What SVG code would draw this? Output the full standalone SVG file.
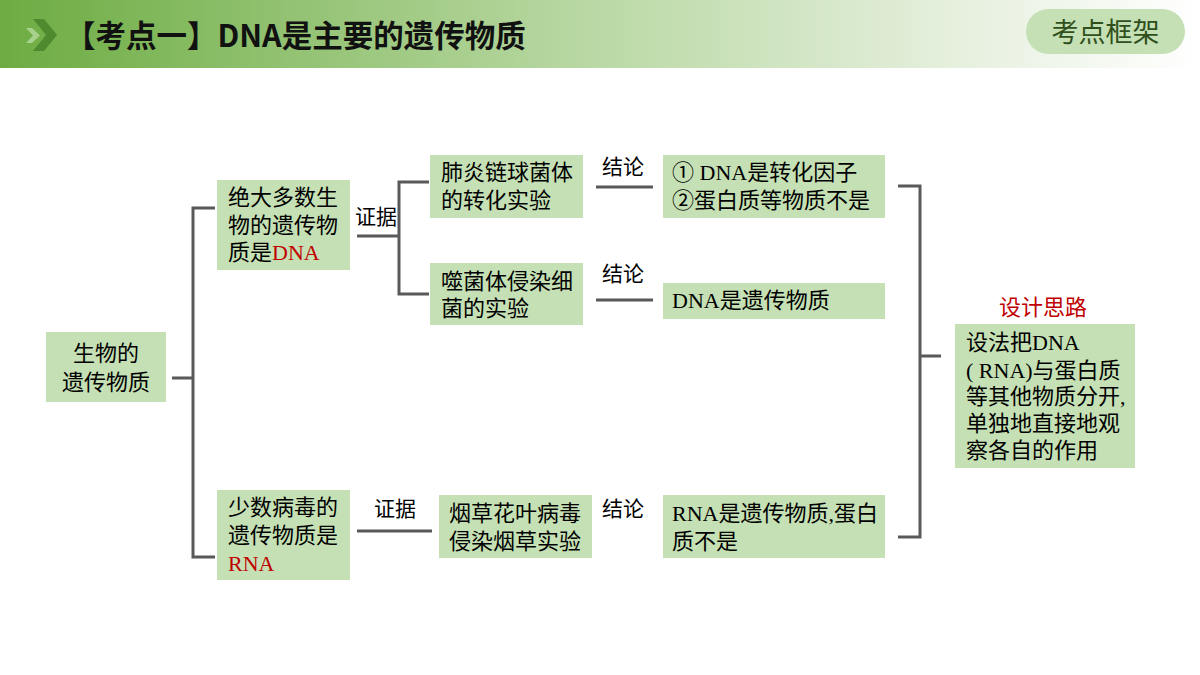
<svg xmlns="http://www.w3.org/2000/svg" width="1200" height="675" viewBox="0 0 1200 675">
<defs>
<linearGradient id="hdr" x1="0" y1="0" x2="1" y2="0">
<stop offset="0" stop-color="#6dac42"/>
<stop offset="0.45" stop-color="#b3d59c"/>
<stop offset="0.8" stop-color="#e6f0de"/>
<stop offset="1" stop-color="#ffffff"/>
</linearGradient>
<style>
.box{fill:#c5e0b4;}
.t{font-family:"Liberation Serif","Noto Sans CJK SC",serif;font-size:22px;fill:#000;}
.red{fill:#c00000;}
.lbl{font-family:"Liberation Serif","Noto Sans CJK SC",serif;font-size:21px;fill:#000;text-anchor:middle;}
.con{fill:none;stroke:#595959;stroke-width:3;}
</style>
</defs>
<rect x="0" y="0" width="1200" height="68" fill="url(#hdr)"/>
<polygon points="26,28 32,28 40,35.5 32,43 26,43 33,35.5" fill="#a9d18e"/>
<polygon points="33,19 44,19 57,35 44,51 33,51 46,35" fill="#4e8a2e"/>
<text x="65" y="47" font-family="Noto Sans CJK SC, sans-serif" font-size="30.5" font-weight="bold" fill="#111">【考点一】DNA是主要的遗传物质</text>
<g id="pill">
<rect x="1026" y="9" width="159" height="45" rx="22.5" fill="#c5e0b4"/>
<text x="1105.5" y="42" text-anchor="middle" font-family="Noto Sans CJK SC, serif" font-size="27" fill="#2f4f1c">考点框架</text>
</g>
<g id="connectors">
<path class="con" d="M172,378 H193 M215,208 H193 V557 H215"/>
<path class="con" d="M357,236 H399 M429,182 H399 V294 H429"/>
<path class="con" d="M596,187 H653 M596,300 H653"/>
<path class="con" d="M357,531 H432"/>
<path class="con" d="M898,186 H920 V537 H898 M920,356 H941"/>
<text class="lbl" x="376" y="224">证据</text>
<text class="lbl" x="623" y="174">结论</text>
<text class="lbl" x="623" y="281">结论</text>
<text class="lbl" x="395" y="516">证据</text>
<text class="lbl" x="623" y="516">结论</text>
</g>
<g id="n-root">
<rect class="box" x="46" y="332" width="120" height="70"/>
<text class="t" x="106" y="361" text-anchor="middle" font-size="24">生物的</text>
<text class="t" x="106" y="390" text-anchor="middle" font-size="24">遗传物质</text>
</g>
<g id="n-dna">
<rect class="box" x="217" y="180" width="133" height="90"/>
<text class="t" x="228" y="205">绝大多数生</text>
<text class="t" x="228" y="233">物的遗传物</text>
<text class="t" x="228" y="260">质是<tspan class="red">DNA</tspan></text>
</g>
<g id="n-pneu">
<rect class="box" x="430" y="155" width="153" height="63"/>
<text class="t" x="441" y="180">肺炎链球菌体</text>
<text class="t" x="441" y="208">的转化实验</text>
</g>
<g id="n-phage">
<rect class="box" x="430" y="263" width="153" height="62"/>
<text class="t" x="441" y="289">噬菌体侵染细</text>
<text class="t" x="441" y="316">菌的实验</text>
</g>
<g id="n-c1">
<rect class="box" x="663" y="155" width="222" height="63"/>
<text class="t" x="672" y="180">① DNA是转化因子</text>
<text class="t" x="672" y="208">②蛋白质等物质不是</text>
</g>
<g id="n-c2">
<rect class="box" x="663" y="283" width="222" height="36"/>
<text class="t" x="672" y="308">DNA是遗传物质</text>
</g>
<g id="n-rna">
<rect class="box" x="217" y="490" width="133" height="90"/>
<text class="t" x="228" y="515">少数病毒的</text>
<text class="t" x="228" y="543">遗传物质是</text>
<text class="t red" x="228" y="571">RNA</text>
</g>
<g id="n-tmv">
<rect class="box" x="439" y="495" width="153" height="63"/>
<text class="t" x="449" y="521">烟草花叶病毒</text>
<text class="t" x="449" y="549">侵染烟草实验</text>
</g>
<g id="n-c3">
<rect class="box" x="663" y="495" width="222" height="63"/>
<text class="t" x="672" y="521">RNA是遗传物质,蛋白</text>
<text class="t" x="672" y="549">质不是</text>
</g>
<g id="n-design">
<text class="t red" x="1043" y="315" text-anchor="middle">设计思路</text>
<rect class="box" x="955" y="324" width="180" height="144"/>
<text class="t" x="966" y="350">设法把DNA</text>
<text class="t" x="966" y="378">( RNA)与蛋白质</text>
<text class="t" x="966" y="404">等其他物质分开,</text>
<text class="t" x="966" y="431">单独地直接地观</text>
<text class="t" x="966" y="458">察各自的作用</text>
</g>
</svg>
